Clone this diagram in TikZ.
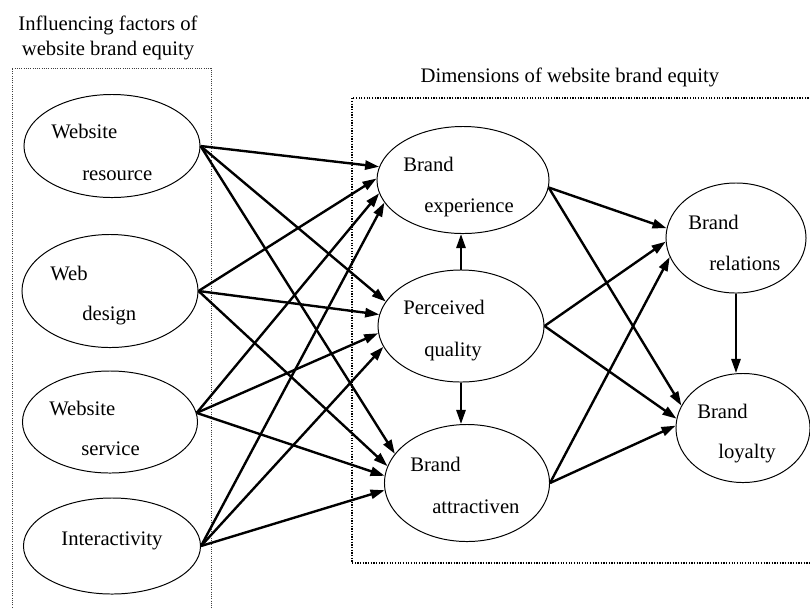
\documentclass[tikz,border=0pt]{standalone}
\usepackage{fontspec}
\setmainfont{Liberation Serif}
\usetikzlibrary{positioning, calc, arrows.meta, shapes.geometric}
\definecolor{Ink}{HTML}{000000}
\tikzset{
    oval/.style={ellipse, draw=Ink, line width=0.7pt, inner sep=0pt},
    txt/.style={anchor=base west, inner sep=0pt, text=Ink},
    arrow/.style={-{Triangle[length=10pt, width=6.5pt]}, line width=1.7pt, color=Ink},
    frame/.style={densely dotted, line width=0.6pt, color=Ink},
}

\begin{document}
\begin{tikzpicture}[x=0.025cm, y=-0.025cm, font=\fontsize{14.7}{17.8}\selectfont]
    \useasboundingbox (0,0) rectangle (810,608);

    % Titles and frames
    \node[align=center, inner sep=0pt] (ftitle) at (108,38) {Influencing factors of\\website brand equity};
    \node[anchor=base, inner sep=0pt] (dtitle) at (570,82) {Dimensions of website brand equity};
    \draw[frame, Ink!75] (12,612) -- (12,68) -- (211,68) -- (211,612);
    \draw[frame, line width=0.9pt] (814,98) -- (352,98) -- (352,563) -- (814,563);

    % Influencing factors
    \node[oval, minimum width=4.4cm, minimum height=2.575cm] (wr) at (112,146) {};
    \node[oval, minimum width=4.4cm, minimum height=2.825cm] (wd) at (110,291) {};
    \node[oval, minimum width=4.375cm, minimum height=2.55cm] (ws) at (110,422) {};
    \node[oval, minimum width=4.425cm, minimum height=2.4cm] (int) at (112,546) {};
    \node[txt] (wr1) at (51,138) {Website};
    \node[txt] (wr2) at (82,180) {resource};
    \node[txt] (wd1) at (50,280) {Web};
    \node[txt] (wd2) at (82,320) {design};
    \node[txt] (ws1) at (49,415) {Website};
    \node[txt] (ws2) at (81,455) {service};
    \node[anchor=base, inner sep=0pt] (int1) at (112,545) {Interactivity};

    % Dimensions
    \node[oval, minimum width=4.3cm, minimum height=2.675cm] (be) at (463,180) {};
    \node[oval, minimum width=4.15cm, minimum height=2.8cm] (pq) at (461,326) {};
    \node[oval, minimum width=4.125cm, minimum height=2.925cm] (ba) at (467,483) {};
    \node[oval, minimum width=3.5cm, minimum height=2.75cm] (br) at (736,238) {};
    \node[oval, minimum width=3.35cm, minimum height=2.725cm] (bl) at (743,428) {};
    \node[txt] (be1) at (403,171) {Brand};
    \node[txt] (be2) at (424,212) {experience};
    \node[txt] (pq1) at (403,314) {Perceived};
    \node[txt] (pq2) at (424,356) {quality};
    \node[txt] (ba1) at (410,471) {Brand};
    \node[txt] (ba2) at (432,513) {attractiven};
    \node[txt] (br1) at (688,229) {Brand};
    \node[txt] (br2) at (709,270) {relations};
    \node[txt] (bl1) at (697,418) {Brand};
    \node[txt] (bl2) at (718,458) {loyalty};

    % Paths
    \foreach \a/\b in {wr.east/be.171, wr.east/pq.162, wr.east/ba.158,
                       wd.east/be.179, wd.east/pq.172, wd.east/ba.168,
                       ws.6/be.189, ws.6/pq.185, ws.6/ba.175,
                       int.east/be.196, int.east/pq.195, int.east/ba.185,
                       be.355/br.172, be.355/bl.160,
                       pq.east/br.183, pq.east/bl.172,
                       ba.east/br.196, ba.east/bl.178}
        \draw[arrow] (\a) -- (\b);
    \draw[arrow] (pq.north) -- (pq.north |- be.south);
    \draw[arrow] (pq.south) -- (pq.south |- ba.north);
    \draw[arrow] (br.south) -- (br.south |- bl.north);
\end{tikzpicture}
\end{document}
